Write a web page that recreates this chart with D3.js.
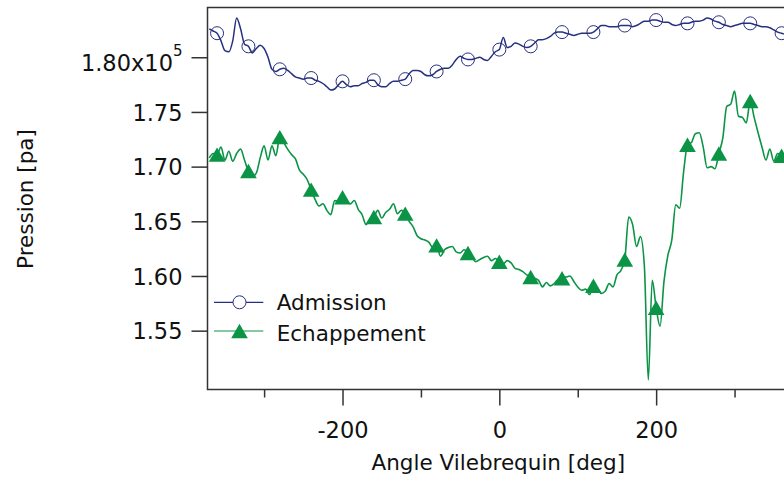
<!DOCTYPE html>
<html>
<head>
<meta charset="utf-8">
<script src="https://cdnjs.cloudflare.com/ajax/libs/d3/7.8.5/d3.min.js"></script>
<style>
  html, body { margin: 0; padding: 0; background: #fff; }
  svg { display: block; font-family: "DejaVu Sans", sans-serif; }
</style>
</head>
<body>
<div id="chart"></div>
<script>
// angle vilebrequin, pas de 5 deg
const angles = d3.range(-370, 375, 5);

// Pression admission (x10^5 pa)
const admission = [
  1.826, 1.824, 1.822, 1.815, 1.806, 1.805, 1.815, 1.836, 1.826, 1.812,
  1.810, 1.804, 1.808, 1.811, 1.808, 1.800, 1.789, 1.787, 1.789, 1.790,
  1.788, 1.785, 1.782, 1.781, 1.780, 1.781, 1.781, 1.779, 1.778, 1.776,
  1.773, 1.770, 1.771, 1.775, 1.778, 1.775, 1.773, 1.774, 1.774, 1.776,
  1.777, 1.779, 1.779, 1.775, 1.773, 1.773, 1.776, 1.778, 1.778, 1.779,
  1.780, 1.785, 1.788, 1.788, 1.787, 1.784, 1.783, 1.784, 1.787, 1.789,
  1.790, 1.790, 1.793, 1.798, 1.801, 1.799, 1.798, 1.798, 1.799, 1.800,
  1.798, 1.797, 1.801, 1.805, 1.807, 1.818, 1.809, 1.810, 1.813, 1.812,
  1.810, 1.809, 1.810, 1.813, 1.816, 1.816, 1.817, 1.819, 1.822, 1.823,
  1.823, 1.822, 1.821, 1.820, 1.821, 1.822, 1.822, 1.822, 1.823, 1.826,
  1.829, 1.829, 1.828, 1.828, 1.828, 1.829, 1.829, 1.829, 1.828, 1.829,
  1.831, 1.833, 1.833, 1.834, 1.834, 1.833, 1.832, 1.832, 1.830, 1.829,
  1.830, 1.831, 1.831, 1.832, 1.833, 1.833, 1.834, 1.836, 1.835, 1.833,
  1.832, 1.830, 1.829, 1.828, 1.829, 1.830, 1.831, 1.831, 1.831, 1.830,
  1.829, 1.828, 1.828, 1.827, 1.825, 1.823, 1.822, 1.821, 1.821
];

// Pression echappement (x10^5 pa)
const echappement = [
  1.708, 1.712, 1.711, 1.718, 1.706, 1.714, 1.705, 1.712, 1.716, 1.706,
  1.696, 1.691, 1.694, 1.708, 1.719, 1.706, 1.719, 1.710, 1.727, 1.722,
  1.716, 1.711, 1.707, 1.697, 1.693, 1.688, 1.679, 1.670, 1.664, 1.666,
  1.660, 1.656, 1.669, 1.668, 1.672, 1.668, 1.666, 1.669, 1.661, 1.656,
  1.647, 1.652, 1.654, 1.660, 1.653, 1.658, 1.661, 1.666, 1.657, 1.660,
  1.657, 1.650, 1.645, 1.637, 1.634, 1.633, 1.631, 1.626, 1.628, 1.618,
  1.624, 1.626, 1.627, 1.622, 1.621, 1.624, 1.621, 1.617, 1.613, 1.615,
  1.617, 1.618, 1.614, 1.616, 1.613, 1.611, 1.614, 1.612, 1.607, 1.606,
  1.604, 1.601, 1.599, 1.598, 1.596, 1.590, 1.594, 1.591, 1.593, 1.597,
  1.598, 1.599, 1.600, 1.595, 1.590, 1.587, 1.588, 1.583, 1.591, 1.589,
  1.584, 1.586, 1.593, 1.590, 1.601, 1.605, 1.615, 1.654, 1.647, 1.627,
  1.636, 1.609, 1.505, 1.596, 1.571, 1.554, 1.595, 1.619, 1.633, 1.665,
  1.662, 1.695, 1.720, 1.722, 1.730, 1.731, 1.718, 1.699, 1.700, 1.698,
  1.712, 1.726, 1.755, 1.757, 1.769, 1.746, 1.745, 1.740, 1.760, 1.745,
  1.731, 1.718, 1.706, 1.716, 1.705, 1.712, 1.710, 1.706, 1.709
];

const yTicks = [1.55, 1.60, 1.65, 1.70, 1.75, 1.80];
const xMajor = [-200, 0, 200];
const xMinor = [-300, -100, 100, 300];
const seriesNames = ["Admission", "Echappement"];

const W = 784, H = 481;
const pLeft = 207.5, pTop = 7.5, pBottom = 389.5, pRight = 791;
const navy = "#27307f", green = "#0b9446", frame = "#333";

const x = d3.scaleLinear().domain([-372.2, 372]).range([pLeft, pRight]);
const y = d3.scaleLinear().domain([1.4962, 1.8455]).range([pBottom, pTop]);

const svg = d3.select("#chart").append("svg")
  .attr("width", W).attr("height", H);

svg.append("clipPath").attr("id", "clip")
  .append("rect").attr("x", pLeft).attr("y", pTop)
  .attr("width", pRight - pLeft).attr("height", pBottom - pTop);

const plot = svg.append("g").attr("clip-path", "url(#clip)");

const adm = angles.map((a, i) => [a, admission[i]]);
const ech = angles.map((a, i) => [a, echappement[i]]);
const isMarker = d => d[0] % 40 === 0 && Math.abs(d[0]) <= 360;

plot.append("path").datum(adm)
  .attr("fill", "none").attr("stroke", navy).attr("stroke-width", 1.5)
  .attr("d", d3.line().x(d => x(d[0])).y(d => y(d[1])).curve(d3.curveMonotoneX));

plot.append("path").datum(ech)
  .attr("fill", "none").attr("stroke", green).attr("stroke-width", 1.6)
  .attr("d", d3.line().x(d => x(d[0])).y(d => y(d[1])).curve(d3.curveMonotoneX));

plot.selectAll("circle.m").data(adm.filter(isMarker)).enter()
  .append("circle").attr("class", "m")
  .attr("cx", d => x(d[0])).attr("cy", d => y(d[1])).attr("r", 6.5)
  .attr("fill", "none").attr("stroke", navy).attr("stroke-width", 1);

// triangle centre sur sa boite (comme Igor)
const tri = d3.symbol().type(d3.symbolTriangle).size(120);
const triShift = 2.4;
plot.selectAll("path.t").data(ech.filter(isMarker)).enter()
  .append("path").attr("class", "t")
  .attr("transform", d => "translate(" + x(d[0]) + "," + (y(d[1]) + triShift) + ")")
  .attr("d", tri).attr("fill", green);

// cadre
svg.append("path")
  .attr("d", "M" + pRight + "," + pTop + "H" + pLeft + "V" + pBottom + "H" + pRight)
  .attr("fill", "none").attr("stroke", frame).attr("stroke-width", 1.5);

// axe y
const yAxis = svg.append("g")
  .attr("transform", "translate(" + pLeft + ",0)")
  .call(d3.axisLeft(y).tickValues(yTicks).tickSize(16).tickPadding(9)
    .tickFormat(d3.format(".2f")));
yAxis.select(".domain").remove();
yAxis.selectAll("line").attr("stroke", frame).attr("stroke-width", 1.5);
yAxis.selectAll("text")
  .attr("font-size", "22.5px").attr("font-family", "DejaVu Sans").attr("fill", "#111")
  .attr("dy", "0.37em");
yAxis.selectAll("text").filter(d => d === 1.80)
  .attr("dy", "0.6em")
  .text("1.80x10")
  .append("tspan").attr("font-size", "15px").attr("dy", "-15px").text("5");

// axe x
const xAxis = svg.append("g")
  .attr("transform", "translate(0," + pBottom + ")")
  .call(d3.axisBottom(x).tickValues(xMajor).tickSize(16).tickPadding(17)
    .tickFormat(d => String(d)));
xAxis.select(".domain").remove();
xAxis.selectAll("line").attr("stroke", frame).attr("stroke-width", 1.5);
xAxis.selectAll("text")
  .attr("font-size", "22.5px").attr("font-family", "DejaVu Sans").attr("fill", "#111");

const xAxisMinor = svg.append("g")
  .attr("transform", "translate(0," + pBottom + ")")
  .call(d3.axisBottom(x).tickValues(xMinor).tickSize(8).tickFormat(""));
xAxisMinor.select(".domain").remove();
xAxisMinor.selectAll("line").attr("stroke", frame).attr("stroke-width", 1.5);

// titres
svg.append("text")
  .attr("x", 498.3).attr("y", 470)
  .attr("text-anchor", "middle").attr("font-size", "21.5px").attr("fill", "#111")
  .text("Angle Vilebrequin [deg]");

svg.append("text")
  .attr("transform", "translate(33,199) rotate(-90)")
  .attr("text-anchor", "middle").attr("font-size", "21.5px").attr("fill", "#111")
  .text("Pression [pa]");

// legende
const leg = svg.append("g");
const legY = [302.3, 331];
leg.selectAll("line").data(seriesNames).enter().append("line")
  .attr("x1", 214).attr("x2", 263.3)
  .attr("y1", (d, i) => legY[i]).attr("y2", (d, i) => legY[i])
  .attr("stroke", (d, i) => i === 0 ? navy : green).attr("stroke-width", 1.2);
leg.append("circle").attr("cx", 239.5).attr("cy", legY[0]).attr("r", 6.5)
  .attr("fill", "#fff").attr("stroke", navy).attr("stroke-width", 1);
leg.append("path").attr("transform", "translate(239.5," + (legY[1] + triShift) + ")")
  .attr("d", tri).attr("fill", green);
leg.selectAll("text").data(seriesNames).enter().append("text")
  .attr("x", 276.7).attr("y", (d, i) => [310, 340.5][i])
  .attr("font-size", "21.5px").attr("fill", "#111")
  .text(d => d);
</script>
</body>
</html>
